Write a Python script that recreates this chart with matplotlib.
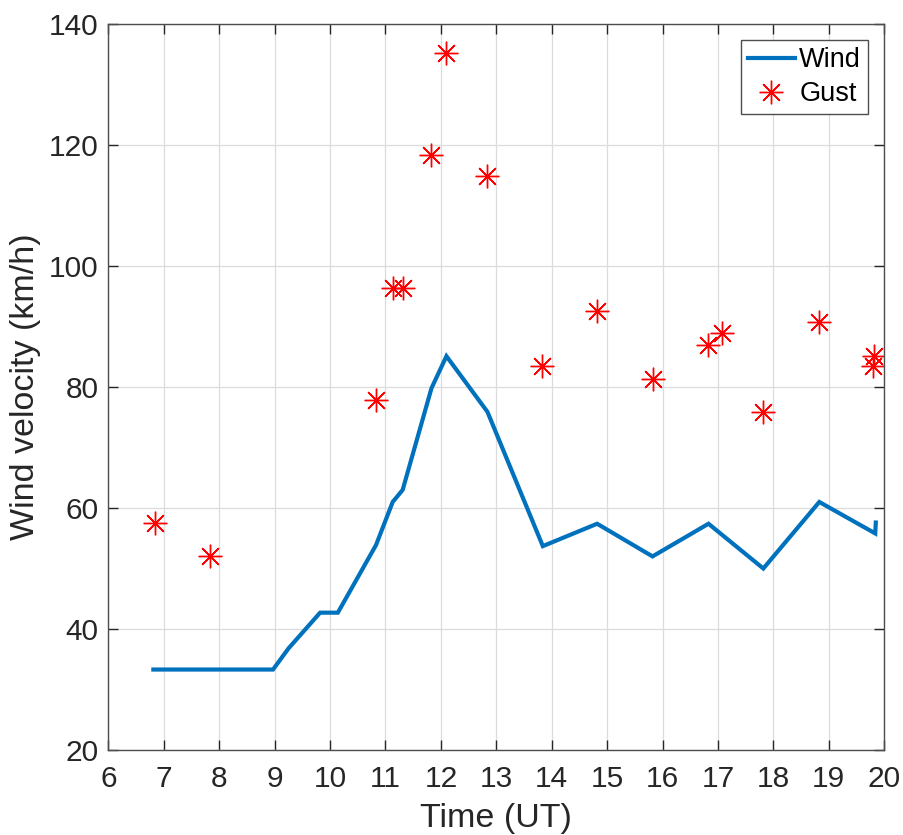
import matplotlib
matplotlib.use("Agg")
import matplotlib.pyplot as plt

plt.rcParams['font.family'] = ['Liberation Sans', 'DejaVu Sans']

wind_t = [6.81, 8.97, 9.25, 9.82, 10.14, 10.83, 11.13, 11.31, 11.83, 12.1, 12.84,
          13.84, 14.82, 15.82, 16.83, 17.82, 18.83, 19.84, 19.85]
wind_v = [33.3, 33.3, 36.8, 42.7, 42.7, 53.9, 61.0, 63.0, 79.8, 85.1, 75.9,
          53.7, 57.4, 52.0, 57.4, 50.0, 61.0, 55.8, 57.6]

gust_t = [6.84, 7.84, 10.83, 11.13, 11.31, 11.82, 12.09, 12.83, 13.83, 14.81,
          15.82, 16.82, 17.07, 17.82, 18.82, 19.82, 19.80]
gust_v = [57.5, 52.0, 77.8, 96.3, 96.3, 118.3, 135.2, 114.8, 83.4, 92.6,
          81.4, 86.9, 89.0, 75.9, 90.7, 85.1, 83.5]

xticks = list(range(6, 21))
yticks = [20, 40, 60, 80, 100, 120, 140]

fig = plt.figure(figsize=(9.04, 8.35), dpi=100)
ax = fig.add_axes([0.12, 0.1018, 0.858, 0.8694])

ax.plot(wind_t, wind_v, color='#0072BD', lw=3, label='Wind', solid_joinstyle='miter')
ax.plot(gust_t, gust_v, linestyle='none', marker=(8, 2, 0), markersize=17,
        markeredgewidth=1.0, color='red', label='Gust')

ax.set_xlim(6, 20)
ax.set_ylim(20, 140)
ax.set_xticks(xticks)
ax.set_yticks(yticks)
ax.tick_params(direction='in', length=7, width=1, top=True, right=True,
               labelsize=21.5, colors='#262626', pad=7)
ax.tick_params(axis='x', pad=11)
for s in ax.spines.values():
    s.set_color('#4d4d4d')
    s.set_linewidth(1)
ax.grid(True, color='#dcdcdc', lw=0.9)
ax.set_axisbelow(True)

ax.set_xlabel('Time (UT)', fontsize=24.5, color='#262626', labelpad=7)
ax.set_ylabel('Wind velocity (km/h)', fontsize=24.5, color='#262626', labelpad=6)

leg = ax.legend(loc='upper right', fontsize=19.5, frameon=True, fancybox=False,
                edgecolor='#4d4d4d', framealpha=1, handlelength=1.75,
                handletextpad=0.15, borderpad=0.25, labelspacing=0.3,
                borderaxespad=0.6)
leg.get_frame().set_linewidth(1)

fig.savefig('out.png', dpi=100)
